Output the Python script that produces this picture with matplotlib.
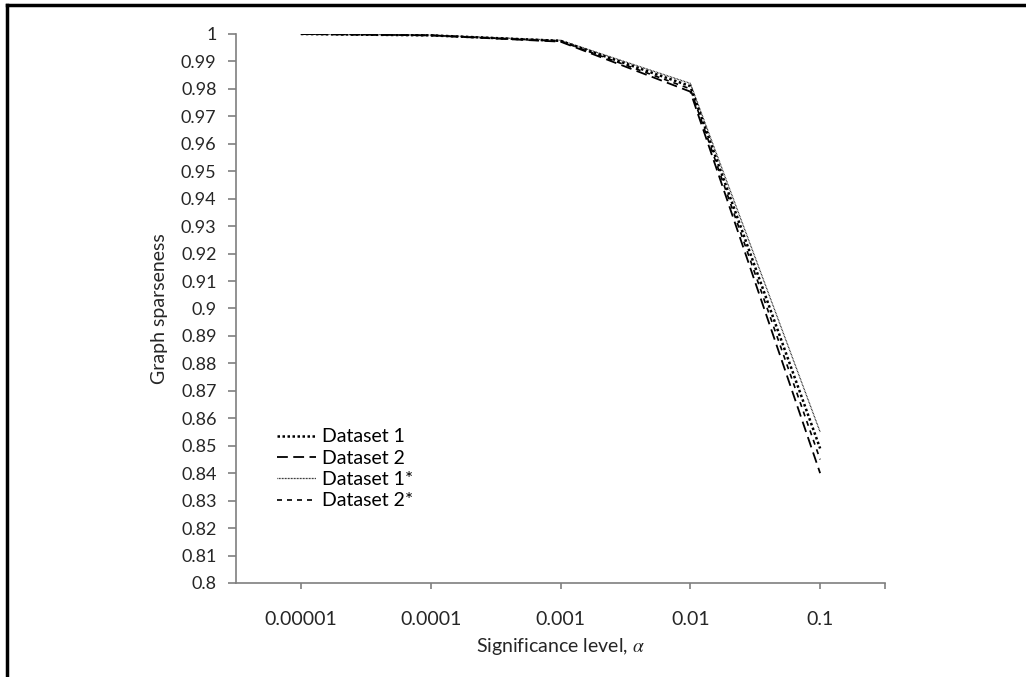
import matplotlib.pyplot as plt
from matplotlib.lines import Line2D

# values
alpha_labels = ['0.00001', '0.0001', '0.001', '0.01', '0.1']
dataset1 = [1.0, 0.9995, 0.9975, 0.981, 0.849]
dataset2 = [1.0, 0.9995, 0.9972, 0.979, 0.840]
dataset1s = [1.0, 0.9996, 0.9977, 0.982, 0.855]
dataset2s = [1.0, 0.9995, 0.9974, 0.980, 0.845]
series_names = ['Dataset 1', 'Dataset 2', 'Dataset 1*', 'Dataset 2*']
y_ticks = [round(0.8 + 0.01 * i, 2) for i in range(21)]

plt.rcParams['font.family'] = ['Lato', 'DejaVu Sans']
plt.rcParams['mathtext.fontset'] = 'stix'

fig = plt.figure(figsize=(10.26, 6.77), dpi=100)
ax = fig.add_axes([0.230, 0.1389, 0.6326, 0.8109])

x = list(range(len(alpha_labels)))
styles = [
    dict(linestyle=(0, (1, 1)), linewidth=1.8),
    dict(linestyle=(0, (6, 3)), linewidth=1.3),
    dict(linestyle=(0, (0.6, 0.6)), linewidth=0.9),
    dict(linestyle=(0, (3, 3)), linewidth=1.2),
]
for ys, name, st in zip([dataset1, dataset2, dataset1s, dataset2s], series_names, styles):
    ax.plot(x, ys, color='black', label=name, **st)

ax.set_xlim(-0.5, 4.5)
ax.set_ylim(0.8, 1.0)
ax.set_xticks(x + [4.5])
ax.set_xticklabels(alpha_labels + [''])
ax.set_yticks(y_ticks)
ax.set_yticklabels(['%g' % v for v in y_ticks])

fs = 14
for s in ['top', 'right']:
    ax.spines[s].set_visible(False)
for s in ['left', 'bottom']:
    ax.spines[s].set_color('#7f7f7f')
    ax.spines[s].set_linewidth(1.2)
ax.tick_params(axis='both', colors='#7f7f7f', labelcolor='#262626', labelsize=fs, width=1.2)
ax.tick_params(axis='y', length=6, pad=8, labelsize=13)
ax.tick_params(axis='x', length=4, pad=16)

ax.set_xlabel(r'Significance level, $\alpha$', fontsize=fs, color='#262626', labelpad=6)
ax.set_ylabel('Graph sparseness', fontsize=fs, color='#262626')
ax.yaxis.set_label_coords(-0.105, 0.5)

ax.legend(loc='lower left', bbox_to_anchor=(0.051, 0.12), frameon=False, fontsize=fs,
          handlelength=2.0, handletextpad=0.3, labelspacing=0.22, borderaxespad=0)

# partial frame around the figure (top and left edges)
fig.add_artist(Line2D([0.0068, 0.0068], [0.0, 0.9926], color='black', linewidth=2.5,
                      transform=fig.transFigure))
fig.add_artist(Line2D([0.0068, 1.0], [0.9926, 0.9926], color='black', linewidth=2.5,
                      transform=fig.transFigure))

fig.savefig('out.png', dpi=100)
